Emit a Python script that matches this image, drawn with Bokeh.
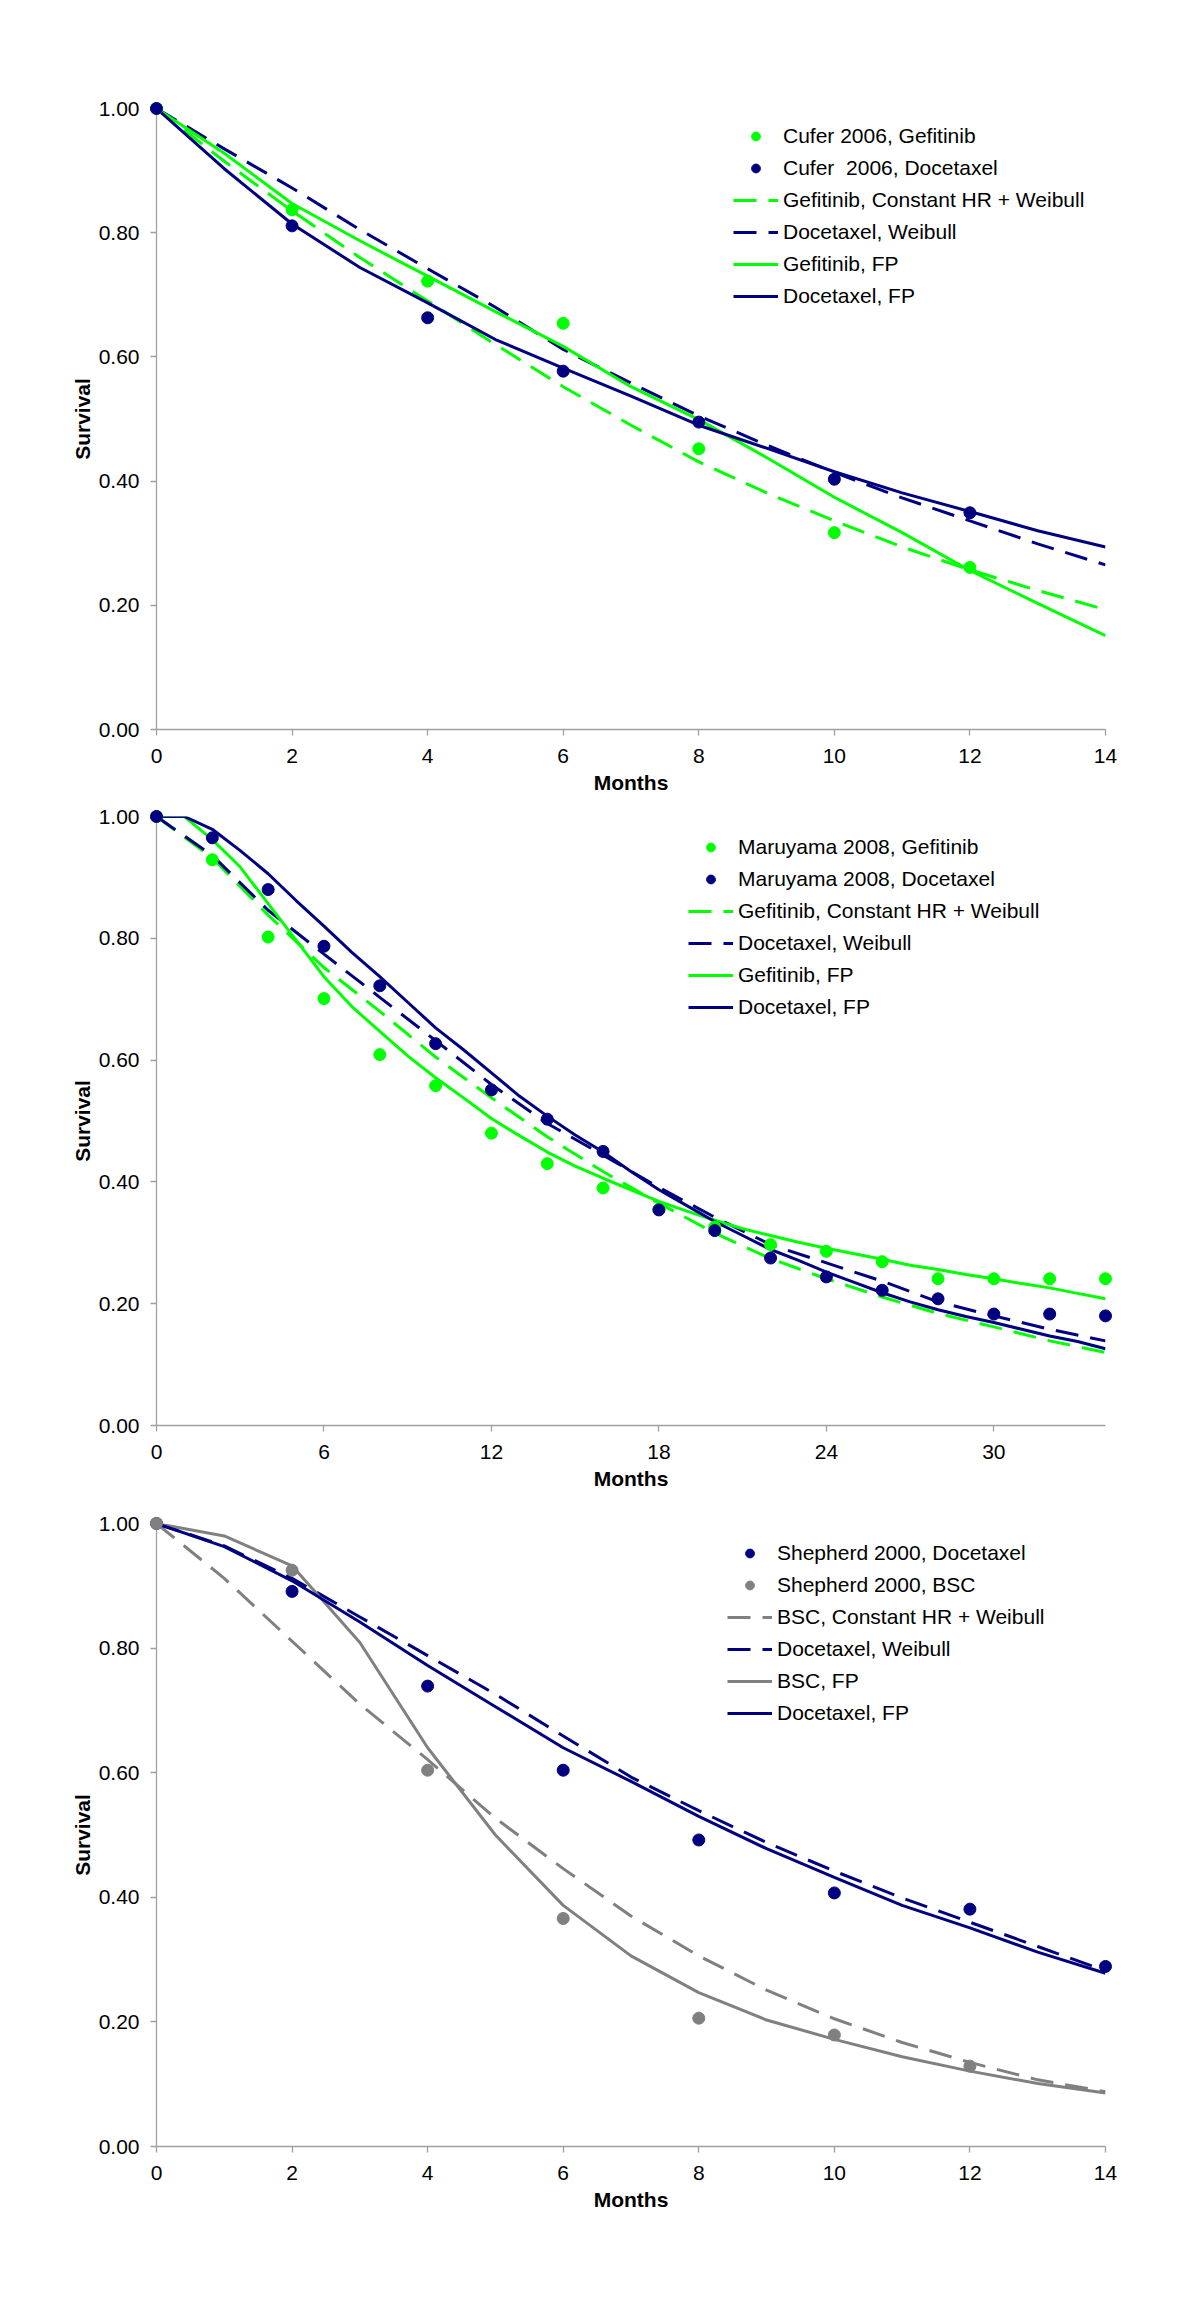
from bokeh.plotting import figure
from bokeh.models import Range1d, FixedTicker, PrintfTickFormatter, Legend, LegendItem
from bokeh.layouts import column
from bokeh.embed import file_html
from bokeh.resources import INLINE

GREEN = "#00FF00"
NAVY = "#000080"
GRAY = "#808080"
FONT = "Liberation Sans"
DASH = "23 12"
FS = "21px"

# ---------------- Panel 1 : Cufer 2006 ----------------
p1_obs_months = [0, 2, 4, 6, 8, 10, 12]
p1_obs_gefitinib = [1.00, 0.837, 0.722, 0.654, 0.452, 0.317, 0.261]
p1_obs_docetaxel = [1.00, 0.811, 0.663, 0.577, 0.495, 0.403, 0.349]
p1_months = [0, 1, 2, 3, 4, 5, 6, 7, 8, 9, 10, 11, 12, 13, 14]
p1_gef_hr_weibull = [1.00, 0.915, 0.835, 0.760, 0.690, 0.620, 0.552, 0.490, 0.431, 0.381, 0.336, 0.294, 0.257, 0.224, 0.193]
p1_doc_weibull = [1.00, 0.935, 0.872, 0.805, 0.742, 0.680, 0.612, 0.558, 0.505, 0.458, 0.414, 0.373, 0.336, 0.299, 0.265]
p1_gef_fp = [1.00, 0.928, 0.847, 0.787, 0.730, 0.673, 0.617, 0.552, 0.499, 0.438, 0.374, 0.317, 0.256, 0.203, 0.151]
p1_doc_fp = [1.00, 0.903, 0.814, 0.744, 0.687, 0.628, 0.582, 0.537, 0.490, 0.453, 0.415, 0.381, 0.351, 0.320, 0.294]
p1_xticks = [0, 2, 4, 6, 8, 10, 12, 14]

# ---------------- Panel 2 : Maruyama 2008 ----------------
p2_obs_months = [0, 2, 4, 6, 8, 10, 12, 14, 16, 18, 20, 22, 24, 26, 28, 30, 32, 34]
p2_obs_gefitinib = [1.00, 0.929, 0.802, 0.701, 0.609, 0.558, 0.480, 0.430, 0.390, 0.355, 0.326, 0.297, 0.286, 0.269, 0.241, 0.241, 0.241, 0.241]
p2_obs_docetaxel = [1.00, 0.965, 0.880, 0.787, 0.722, 0.627, 0.551, 0.503, 0.450, 0.354, 0.320, 0.275, 0.244, 0.222, 0.208, 0.183, 0.183, 0.180]
p2_wb_months = [0, 2, 4, 6, 8, 10, 12, 14, 16, 18, 20, 22, 24, 26, 28, 30, 32, 34]
p2_gef_hr_weibull = [1.00, 0.932, 0.838, 0.752, 0.680, 0.605, 0.538, 0.474, 0.417, 0.365, 0.316, 0.274, 0.241, 0.211, 0.184, 0.162, 0.139, 0.120]
p2_doc_weibull = [1.00, 0.936, 0.846, 0.774, 0.703, 0.632, 0.560, 0.496, 0.444, 0.391, 0.342, 0.297, 0.267, 0.237, 0.203, 0.180, 0.158, 0.139]
p2_fp_months = list(range(0, 35))
p2_gef_fp = [1.00, 1.00, 0.962, 0.917, 0.857, 0.797, 0.737, 0.688, 0.647, 0.607, 0.571, 0.538, 0.504,
             0.476, 0.449, 0.426, 0.406, 0.387, 0.368, 0.352, 0.337, 0.323, 0.312, 0.301, 0.291,
             0.282, 0.273, 0.263, 0.256, 0.248, 0.241, 0.233, 0.226, 0.217, 0.208]
p2_doc_fp = [1.00, 1.00, 0.979, 0.944, 0.906, 0.862, 0.820, 0.777, 0.737, 0.695, 0.653, 0.617, 0.579,
             0.541, 0.508, 0.477, 0.449, 0.417, 0.387, 0.361, 0.335, 0.312, 0.289, 0.271, 0.252,
             0.235, 0.218, 0.203, 0.190, 0.179, 0.169, 0.158, 0.147, 0.138, 0.126]
p2_xticks = [0, 6, 12, 18, 24, 30]

# ---------------- Panel 3 : Shepherd 2000 ----------------
p3_doc_obs_months = [0, 2, 4, 6, 8, 10, 12, 14]
p3_obs_docetaxel = [1.00, 0.891, 0.739, 0.604, 0.492, 0.407, 0.381, 0.289]
p3_bsc_obs_months = [0, 2, 4, 6, 8, 10, 12]
p3_obs_bsc = [1.00, 0.925, 0.604, 0.366, 0.206, 0.179, 0.129]
p3_months = [0, 1, 2, 3, 4, 5, 6, 7, 8, 9, 10, 11, 12, 13, 14]
p3_bsc_hr_weibull = [1.00, 0.912, 0.811, 0.710, 0.621, 0.527, 0.446, 0.370, 0.306, 0.251, 0.205, 0.167, 0.135, 0.107, 0.088]
p3_doc_weibull = [1.00, 0.964, 0.912, 0.850, 0.788, 0.726, 0.659, 0.593, 0.539, 0.488, 0.442, 0.399, 0.360, 0.321, 0.282]
p3_bsc_fp = [1.00, 0.980, 0.932, 0.809, 0.640, 0.500, 0.387, 0.306, 0.247, 0.203, 0.172, 0.144, 0.121, 0.101, 0.086]
p3_doc_fp = [1.00, 0.963, 0.908, 0.842, 0.772, 0.706, 0.640, 0.586, 0.530, 0.478, 0.432, 0.387, 0.351, 0.312, 0.278]
p3_xticks = [0, 2, 4, 6, 8, 10, 12, 14]

y_ticks = [0.0, 0.2, 0.4, 0.6, 0.8, 1.0]

WIDTH = 1145


def make_panel(x_end, x_ticks, height, b_top, b_bottom, b_left, frame_w, series, legend_xy):
    p = figure(width=WIDTH, height=height, output_backend="svg", toolbar_location=None,
               x_range=Range1d(0, x_end), y_range=Range1d(0, 1.0),
               min_border_left=b_left, min_border_right=WIDTH - b_left - frame_w,
               min_border_top=b_top, min_border_bottom=b_bottom)
    p.outline_line_color = None
    p.grid.visible = False
    p.background_fill_color = "white"
    p.border_fill_color = "white"
    for ax in (p.xaxis[0], p.yaxis[0]):
        ax.axis_line_color = "#A0A0A0"
        ax.axis_line_width = 1.3
        ax.major_tick_line_color = "#A0A0A0"
        ax.major_tick_line_width = 1.3
        ax.major_tick_out = 6
        ax.major_tick_in = 0
        ax.minor_tick_line_color = None
        ax.major_label_text_font = FONT
        ax.major_label_text_font_size = FS
        ax.major_label_text_color = "black"
        ax.axis_label_text_font = FONT
        ax.axis_label_text_font_size = FS
        ax.axis_label_text_font_style = "bold"
        ax.axis_label_text_color = "black"
    p.xaxis[0].ticker = FixedTicker(ticks=x_ticks)
    p.yaxis[0].ticker = FixedTicker(ticks=y_ticks)
    p.yaxis[0].formatter = PrintfTickFormatter(format="%.2f")
    p.xaxis[0].axis_label = "Months"
    p.yaxis[0].axis_label = "Survival"
    p.xaxis[0].major_label_standoff = 13
    p.xaxis[0].axis_label_standoff = 5
    p.yaxis[0].major_label_standoff = 11
    p.yaxis[0].axis_label_standoff = 2

    items = []
    for label, kind, xs, ys, color, dash in series:
        if kind == "dots":
            r = p.scatter(xs, ys, size=12, color=color, line_color=color, level="overlay")
        else:
            r = p.line(xs, ys, line_color=color, line_width=3, line_dash=dash)
        items.append(LegendItem(label=label, renderers=[r]))
    legend = Legend(items=items, location=legend_xy,
                    label_text_font=FONT, label_text_font_size=FS, label_text_color="black",
                    background_fill_alpha=0, border_line_color=None, padding=0, margin=0,
                    spacing=8, glyph_width=45, glyph_height=22, label_height=22, label_standoff=5)
    p.add_layout(legend)
    return p


p1 = make_panel(14, p1_xticks, 805, 108, 76, 156, 949, [
    ("Cufer 2006, Gefitinib", "dots", p1_obs_months, p1_obs_gefitinib, GREEN, None),
    ("Cufer  2006, Docetaxel", "dots", p1_obs_months, p1_obs_docetaxel, NAVY, None),
    ("Gefitinib, Constant HR + Weibull", "line", p1_months, p1_gef_hr_weibull, GREEN, DASH),
    ("Docetaxel, Weibull", "line", p1_months, p1_doc_weibull, NAVY, DASH),
    ("Gefitinib, FP", "line", p1_months, p1_gef_fp, GREEN, "solid"),
    ("Docetaxel, FP", "line", p1_months, p1_doc_fp, NAVY, "solid"),
], (577, 421))

p2 = make_panel(34, p2_xticks, 696, 11, 76, 154, 951, [
    ("Maruyama 2008, Gefitinib", "dots", p2_obs_months, p2_obs_gefitinib, GREEN, None),
    ("Maruyama 2008, Docetaxel", "dots", p2_obs_months, p2_obs_docetaxel, NAVY, None),
    ("Gefitinib, Constant HR + Weibull", "line", p2_wb_months, p2_gef_hr_weibull, GREEN, DASH),
    ("Docetaxel, Weibull", "line", p2_wb_months, p2_doc_weibull, NAVY, DASH),
    ("Gefitinib, FP", "line", p2_fp_months, p2_gef_fp, GREEN, "solid"),
    ("Docetaxel, FP", "line", p2_fp_months, p2_doc_fp, NAVY, "solid"),
], (532, 406))

p3 = make_panel(14, p3_xticks, 725, 22, 80, 156, 949, [
    ("Shepherd 2000, Docetaxel", "dots", p3_doc_obs_months, p3_obs_docetaxel, NAVY, None),
    ("Shepherd 2000, BSC", "dots", p3_bsc_obs_months, p3_obs_bsc, GRAY, None),
    ("BSC, Constant HR + Weibull", "line", p3_months, p3_bsc_hr_weibull, GRAY, DASH),
    ("Docetaxel, Weibull", "line", p3_months, p3_doc_weibull, NAVY, DASH),
    ("BSC, FP", "line", p3_months, p3_bsc_fp, GRAY, "solid"),
    ("Docetaxel, FP", "line", p3_months, p3_doc_fp, NAVY, "solid"),
], (571, 421))

layout = column(p1, p2, p3, spacing=0)
open("out.html", "w").write(file_html(layout, INLINE))
